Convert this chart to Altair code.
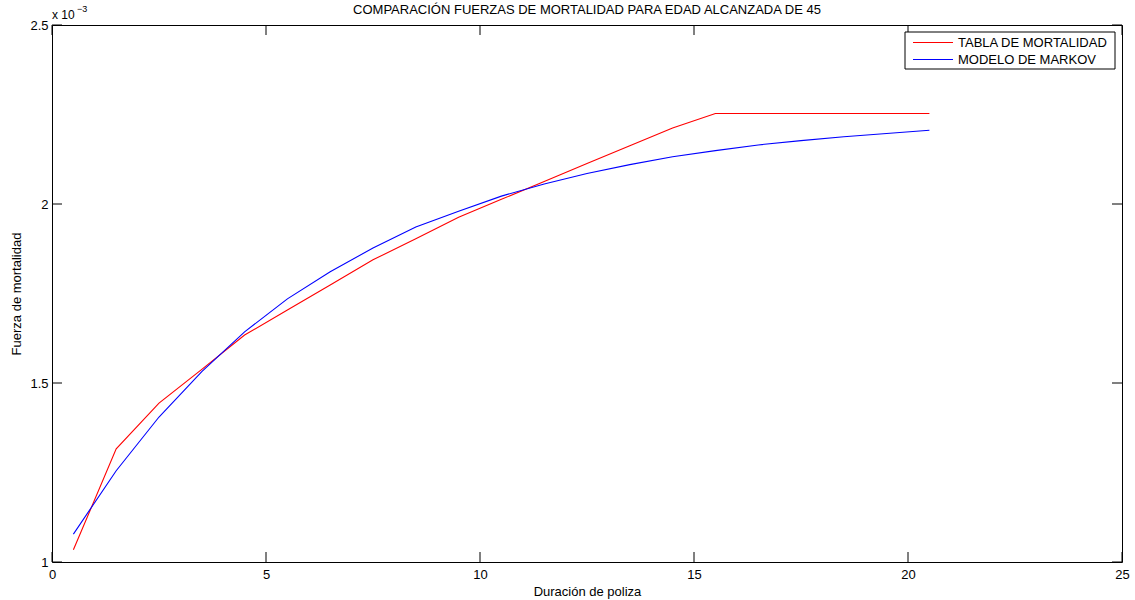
import altair as alt
import pandas as pd

# Duración de póliza (años)
duracion = [0.5, 1.5, 2.5, 3.5, 4.5, 5.5, 6.5, 7.5, 8.5, 9.5, 10.5,
            11.5, 12.5, 13.5, 14.5, 15.5, 16.5, 17.5, 18.5, 19.5, 20.5]
# Fuerza de mortalidad, en unidades de 10^-3
tabla = [1.034, 1.316, 1.444, 1.538, 1.634, 1.704, 1.774, 1.844, 1.903, 1.963, 2.013,
         2.063, 2.113, 2.163, 2.212, 2.253, 2.253, 2.253, 2.253, 2.253, 2.253]
markov = [1.078, 1.255, 1.405, 1.532, 1.643, 1.735, 1.811, 1.877, 1.936, 1.980, 2.022,
          2.056, 2.085, 2.110, 2.132, 2.149, 2.165, 2.177, 2.188, 2.197, 2.206]

series_names = ["TABLA DE MORTALIDAD", "MODELO DE MARKOV"]
series_colors = ["#ff0000", "#0000ff"]
x_ticks = [0, 5, 10, 15, 20, 25]
y_ticks = [1, 1.5, 2, 2.5]
title_text = "COMPARACIÓN FUERZAS DE MORTALIDAD PARA EDAD ALCANZADA DE 45"
x_title = "Duración de poliza"
y_title = "Fuerza de mortalidad"
exp_base = "x 10"
exp_power = "\u22123"

W, H = 1070, 537
FONT = "Liberation Sans"
FS = 13
TICK = 10

df = pd.DataFrame({
    "x": duracion + duracion,
    "y": tabla + markov,
    "serie": [series_names[0]] * len(duracion) + [series_names[1]] * len(duracion),
    "orden": list(range(len(duracion))) * 2,
})

xs = alt.Scale(domain=[0, 25], nice=False, zero=False)
ys = alt.Scale(domain=[1, 2.5], nice=False, zero=False)

x_axis = alt.Axis(
    values=x_ticks, title=x_title, grid=False, ticks=False, domain=False,
    labelPadding=6, titlePadding=4, labelFont=FONT, titleFont=FONT,
    labelFontSize=FS, titleFontSize=FS, titleFontWeight="normal",
    labelColor="black", titleColor="black", labelFlush=False)
y_axis = alt.Axis(
    values=y_ticks, format="~g", title=y_title, grid=False, ticks=False, domain=False,
    labelPadding=4, titlePadding=6, labelFont=FONT, titleFont=FONT,
    labelFontSize=FS, titleFontSize=FS, titleFontWeight="normal",
    labelColor="black", titleColor="black", labelFlush=False)

lines = alt.Chart(df).mark_line(strokeWidth=1.1, clip=True).encode(
    x=alt.X("x:Q", scale=xs, axis=x_axis),
    y=alt.Y("y:Q", scale=ys, axis=y_axis),
    color=alt.Color("serie:N", scale=alt.Scale(domain=series_names, range=series_colors), legend=None),
    order="orden:Q",
)

xt = pd.DataFrame({"x": x_ticks})
yt = pd.DataFrame({"y": y_ticks})
tick_style = dict(stroke="black", strokeWidth=1)
xb = alt.Chart(xt).mark_rule(**tick_style).encode(
    x=alt.X("x:Q", scale=xs, axis=x_axis), y=alt.value(H), y2=alt.value(H - TICK))
xtp = alt.Chart(xt).mark_rule(**tick_style).encode(
    x=alt.X("x:Q", scale=xs, axis=x_axis), y=alt.value(0), y2=alt.value(TICK))
yl = alt.Chart(yt).mark_rule(**tick_style).encode(
    y=alt.Y("y:Q", scale=ys, axis=y_axis), x=alt.value(0), x2=alt.value(TICK))
yr = alt.Chart(yt).mark_rule(**tick_style).encode(
    y=alt.Y("y:Q", scale=ys, axis=y_axis), x=alt.value(W), x2=alt.value(W - TICK))

one = pd.DataFrame({"a": [0]})
title_mark = alt.Chart(one).mark_text(font=FONT, fontSize=FS, align="center", baseline="alphabetic",
                                      color="black", text=title_text).encode(
    x=alt.value(W / 2), y=alt.value(-11))
exp1 = alt.Chart(one).mark_text(font=FONT, fontSize=12, align="left", baseline="alphabetic",
                                color="black", text=exp_base).encode(x=alt.value(0), y=alt.value(-6))
exp2 = alt.Chart(one).mark_text(font=FONT, fontSize=9, align="left", baseline="alphabetic",
                                color="black", text=exp_power).encode(x=alt.value(25), y=alt.value(-13))

# Legend box
lx0, lx1, ly0, ly1 = 853, 1063, 7, 44
leg_layers = [alt.Chart(one).mark_rect(fill="white", stroke="black", strokeWidth=1).encode(
    x=alt.value(lx0), x2=alt.value(lx1), y=alt.value(ly0), y2=alt.value(ly1))]
for i, (name, col) in enumerate(zip(series_names, series_colors)):
    yy = 17.5 + 17 * i
    leg_layers.append(alt.Chart(one).mark_rule(stroke=col, strokeWidth=1.2).encode(
        x=alt.value(lx0 + 8), x2=alt.value(lx0 + 48), y=alt.value(yy)))
    leg_layers.append(alt.Chart(one).mark_text(font=FONT, fontSize=FS, align="left", baseline="middle",
                                               color="black", text=name).encode(
        x=alt.value(lx0 + 53), y=alt.value(yy)))

chart = alt.layer(lines, xb, xtp, yl, yr, title_mark, exp1, exp2, *leg_layers).properties(
    width=W, height=H,
    autosize=alt.AutoSizeParams(type="none"),
    padding={"left": 52, "top": 25, "right": 13, "bottom": 38},
    background="white",
).configure_view(stroke="black", strokeWidth=1)

chart.save("out.html", embed_options={"renderer": "svg", "actions": False})
